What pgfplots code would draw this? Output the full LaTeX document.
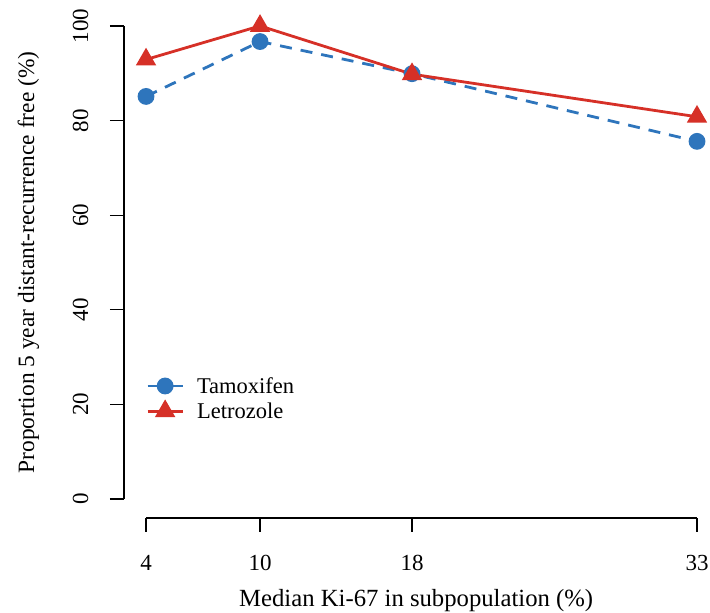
\documentclass[border=0pt]{standalone}
\usepackage{fontspec}
\setmainfont{Liberation Serif}
\usepackage{pgfplots}
\pgfplotsset{compat=1.18}
\definecolor{tamblue}{RGB}{46,117,188}
\definecolor{letred}{RGB}{214,48,39}
\begin{document}
\begin{tikzpicture}
\begin{axis}[name=ax,
  scale only axis, width=584.4pt, height=511pt,
  xmin=2.84, xmax=33.6, ymin=-4, ymax=104,
  axis line style={draw=none},
  xtick={4,10,18,33}, ytick={0,20,40,60,80,100},
  xtick pos=bottom, ytick pos=left,
  tick align=outside, major tick length=14pt,
  tick style={black, line width=1.3pt},
  /pgf/number format/assume math mode=true,
  ticklabel style={font=\fontsize{23}{27}\selectfont},
  yticklabel style={rotate=90, anchor=south, yshift=18pt},
  xticklabel style={yshift=-20pt},
  xlabel={Median Ki-67 in subpopulation (\%)},
  ylabel={Proportion 5 year distant-recurrence free (\%)},
  xlabel style={font=\fontsize{24.7}{28}\selectfont, yshift=-11pt},
  ylabel style={font=\fontsize{23.4}{28}\selectfont, yshift=27pt},
  clip=false,
  legend style={draw=none, fill=none, inner sep=0pt, row sep=4pt,
    font=\fontsize{22.5}{26}\selectfont, at={(axis cs:4.0,26.2)}, anchor=north west,
    nodes={inner sep=2pt},
    /tikz/every odd column/.append style={column sep=11pt}},
  legend cell align=left,
  legend image code/.code={\draw[mark repeat=2,mark phase=2] plot coordinates {(0pt,0pt) (17.5pt,0pt) (35pt,0pt)};},
]
\draw[line width=1.3pt] (axis cs:4,-4) -- (axis cs:33,-4);
\draw[line width=1.3pt] (axis cs:2.84,0) -- (axis cs:2.84,100);
\addlegendimage{tamblue, line width=2.8pt, mark=*, mark size=7pt}
\addlegendentry{Tamoxifen}
\addlegendimage{letred, line width=2.8pt, mark=triangle*, mark size=9pt}
\addlegendentry{Letrozole}
\addplot[forget plot, tamblue, line width=2.8pt, dash pattern=on 12pt off 9pt, mark=*, mark size=7pt, mark options={solid}]
  coordinates {(4,85.1) (10,96.7) (18,89.9) (33,75.6)};
\addplot[forget plot, letred, line width=2.8pt, mark=triangle*, mark size=9pt, mark options={solid}]
  coordinates {(4,92.9) (10,100) (18,89.8) (33,80.8)};
\end{axis}
\pgfresetboundingbox
\path (ax.south west) ++(-124pt,-95pt) coordinate (bl);
\path (ax.north east) ++(1.6pt,7pt) coordinate (tr);
\path (bl) rectangle (tr);
\end{tikzpicture}
\end{document}
